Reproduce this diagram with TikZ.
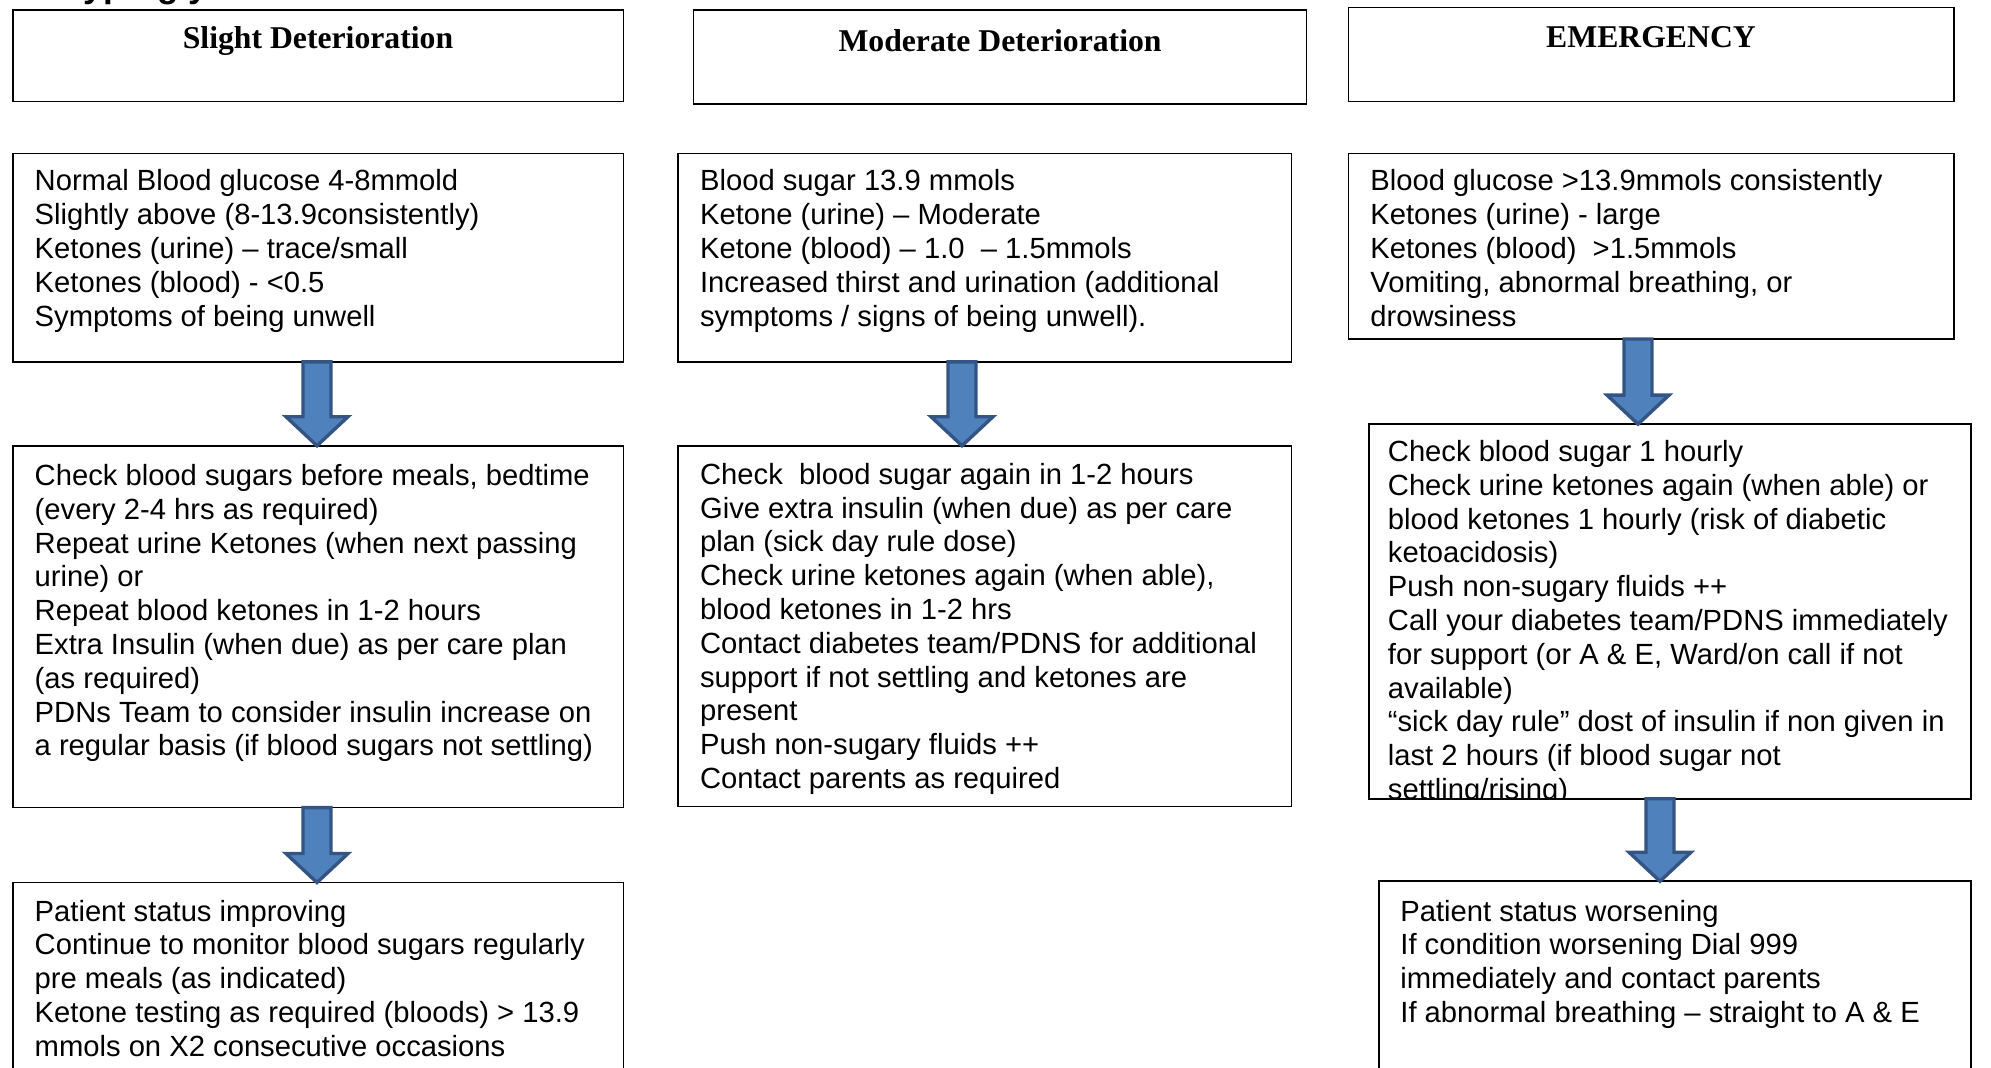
\documentclass[tikz,border=0pt]{standalone}
\usepackage{fontspec}
\usetikzlibrary{calc}
\newfontfamily\bodyfont{Liberation Sans}
\newfontfamily\headfont{Liberation Serif}
\definecolor{arrowfill}{HTML}{4F81BD}
\definecolor{arrowline}{HTML}{345584}
\tikzset{
  box/.style={draw=black, line width=0.8pt, rectangle, inner sep=0pt, outer sep=0pt, anchor=north west},
  body/.style={font=\bodyfont\fontsize{14.6pt}{16.9pt}\selectfont, align=left, anchor=north west, inner sep=0pt, text=black},
  head/.style={font=\headfont\bfseries\fontsize{15.85pt}{19pt}\selectfont, anchor=base, inner sep=0pt},
  barrow/.style={fill=arrowfill, draw=arrowline, line width=1.7pt, line join=miter}
}
\newcommand\blockarrow[3]{%
  \coordinate (tmp) at (#1,0);
  \draw[barrow] let \p1=(tmp |- #2.south), \p2=(tmp |- #3.north) in
    (\x1-7pt,\y1) -- (\x1-7pt,\y2+14.5pt) -- (\x1-15.5pt,\y2+14.5pt) -- (\x1,\y2)
    -- (\x1+15.5pt,\y2+14.5pt) -- (\x1+7pt,\y2+14.5pt) -- (\x1+7pt,\y1) -- cycle;}
\begin{document}
\begin{tikzpicture}[x=0.5pt,y=-0.5pt]
\useasboundingbox (0,0) rectangle (1991,1067);
\clip (0,0) rectangle (1991,1067);
\fill[white] (0,0) rectangle (1991,1067);

% partially visible page title
\node[anchor=base west, inner sep=0pt, font=\bodyfont\bfseries\fontsize{17.5pt}{20pt}\selectfont] (pagetitle) at (58,-2.4) {Hyperglycaemia};

% header boxes
\node[box, minimum width=305.4pt, minimum height=45.7pt] (H1) at (12.7,10.2) {};
\node[box, minimum width=306.65pt, minimum height=46.95pt] (H2) at (693.3,10.2) {};
\node[box, minimum width=302.85pt, minimum height=47pt] (H3) at (1348.5,7.6) {};
\node[head] (t1) at (318,48) {Slight Deterioration};
\node[head] (t2) at (1000,51) {Moderate Deterioration};
\node[head] (t3) at (1651,47) {EMERGENCY};

% row boxes
\node[box, minimum width=305.4pt, minimum height=104.15pt] (A1) at (12.7,153.6) {};
\node[box, minimum width=306.7pt, minimum height=104.15pt] (B1) at (678,153.6) {};
\node[box, minimum width=302.85pt, minimum height=92.7pt] (C1) at (1348.5,153.6) {};
\node[box, minimum width=305.4pt, minimum height=180.95pt] (A2) at (12.7,445.7) {};
\node[box, minimum width=306.7pt, minimum height=180.3pt] (B2) at (678,445.7) {};
\node[box, minimum width=301pt, minimum height=187.3pt] (C2) at (1368.8,424.1) {};
\node[box, minimum width=305.4pt, minimum height=100pt] (A3) at (12.7,882.5) {};
\node[box, minimum width=295.9pt, minimum height=100pt] (C3) at (1379,881.2) {};

% texts
\node[body] (A1t) at (34.3,166.9) {\strut Normal Blood glucose 4-8mmold\\
Slightly above (8-13.9consistently)\\
Ketones (urine) – trace/small\\
Ketones (blood) - <0.5\\
Symptoms of being unwell};

\node[body] (B1t) at (699.7,166.9) {\strut Blood sugar 13.9 mmols\\
Ketone (urine) – Moderate\\
Ketone (blood) – 1.0~ – 1.5mmols\\
Increased thirst and urination (additional\\
symptoms / signs of being unwell).};

\node[body] (C1t) at (1370,166.9) {\strut Blood glucose >13.9mmols consistently\\
Ketones (urine) - large\\
Ketones (blood)~ >1.5mmols\\
Vomiting, abnormal breathing, or\\
drowsiness};

\node[body] (A2t) at (34.3,461.4) {\strut Check blood sugars before meals, bedtime\\
(every 2-4 hrs as required)\\
Repeat urine Ketones (when next passing\\
urine) or\\
Repeat blood ketones in 1-2 hours\\
Extra Insulin (when due) as per care plan\\
(as required)\\
PDNs Team to consider insulin increase on\\
a regular basis (if blood sugars not settling)};

\node[body] (B2t) at (699.7,460.2) {\strut Check~ blood sugar again in 1-2 hours\\
Give extra insulin (when due) as per care\\
plan (sick day rule dose)\\
Check urine ketones again (when able),\\
blood ketones in 1-2 hrs\\
Contact diabetes team/PDNS for additional\\
support if not settling and ketones are\\
present\\
Push non-sugary fluids ++\\
Contact parents as required};

\begin{scope}
\clip (C2.south west) rectangle (C2.north east);
\node[body] (C2t) at (1387.5,437.4) {\strut Check blood sugar 1 hourly\\
Check urine ketones again (when able) or\\
blood ketones 1 hourly (risk of diabetic\\
ketoacidosis)\\
Push non-sugary fluids ++\\
Call your diabetes team/PDNS immediately\\
for support (or A \& E, Ward/on call if not\\
available)\\
“sick day rule” dost of insulin if non given in\\
last 2 hours (if blood sugar not\\
settling/rising)};
\end{scope}

\node[body] (A3t) at (34.3,897) {\strut Patient status improving\\
Continue to monitor blood sugars regularly\\
pre meals (as indicated)\\
Ketone testing as required (bloods) > 13.9\\
mmols on X2 consecutive occasions};

\node[body] (C3t) at (1400,897) {\strut Patient status worsening\\
If condition worsening Dial 999\\
immediately and contact parents\\
If abnormal breathing – straight to A \& E};

% block arrows
\blockarrow{317}{A1}{A2}
\blockarrow{962}{B1}{B2}
\blockarrow{1638}{C1}{C2}
\blockarrow{317}{A2}{A3}
\blockarrow{1660}{C2}{C3}
\end{tikzpicture}
\end{document}
